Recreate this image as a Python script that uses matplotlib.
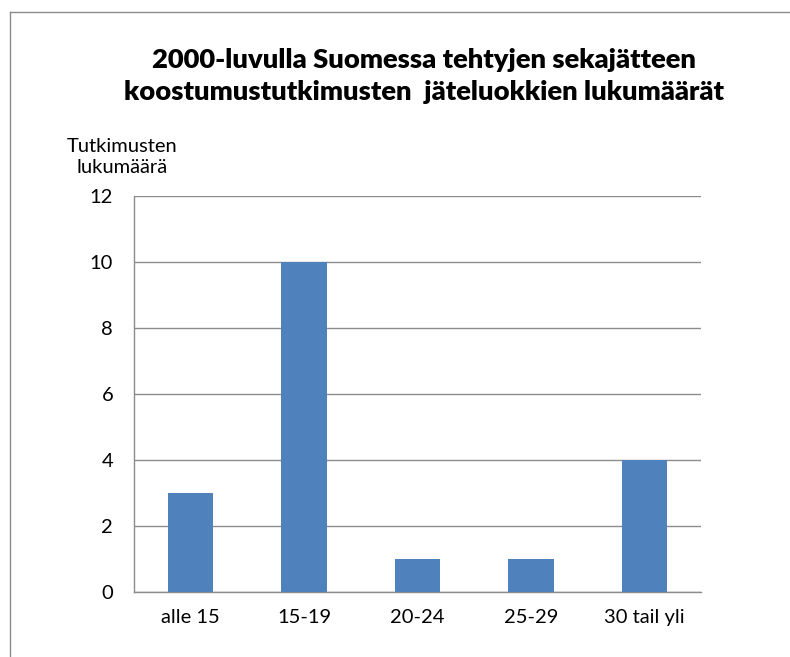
import matplotlib.pyplot as plt
from matplotlib.lines import Line2D

categories = ["alle 15", "15-19", "20-24", "25-29", "30 tail yli"]
counts = [3, 10, 1, 1, 4]
yticks = [0, 2, 4, 6, 8, 10, 12]

plt.rcParams['font.family'] = ['Lato', 'DejaVu Sans']

W, H = 790, 657
fig = plt.figure(figsize=(W / 100, H / 100), dpi=100)
ax = fig.add_axes([134 / W, 1 - 592 / H, (701 - 134) / W, (592 - 196) / H])

ax.bar(range(len(categories)), counts, width=0.4, color="#4f81bd", zorder=3)
ax.set_xlim(-0.5, len(categories) - 0.5)
ax.set_ylim(0, 12)
ax.set_yticks(yticks)
ax.set_xticks(range(len(categories)))
ax.set_xticklabels(categories)
ax.tick_params(axis="both", length=0, labelsize=14.5, colors="black")
ax.tick_params(axis="y", pad=15)
ax.tick_params(axis="x", pad=12)
ax.grid(axis="y", color="#8c8c8c", linewidth=1, zorder=0)
for s in ["top", "right"]:
    ax.spines[s].set_visible(False)
for s in ["left", "bottom"]:
    ax.spines[s].set_color("#8c8c8c")
    ax.spines[s].set_linewidth(1)

fig.text(122 / W, 1 - 157 / H, "Tutkimusten\nlukumäärä", ha="center", va="center",
         fontsize=14.5, linespacing=1.3)
fig.text(424 / W, 1 - 76 / H,
         "2000-luvulla Suomessa tehtyjen sekajätteen\nkoostumustutkimusten  jäteluokkien lukumäärät",
         ha="center", va="center", fontsize=19.7, fontweight="heavy", linespacing=1.4)

# chart border (partly cut off at right and bottom)
fig.add_artist(Line2D([10 / W, 1], [1 - 12 / H, 1 - 12 / H], transform=fig.transFigure,
                      color="#8c8c8c", linewidth=1))
fig.add_artist(Line2D([10 / W, 10 / W], [0, 1 - 12 / H], transform=fig.transFigure,
                      color="#8c8c8c", linewidth=1))

fig.savefig("out.png", dpi=100)
